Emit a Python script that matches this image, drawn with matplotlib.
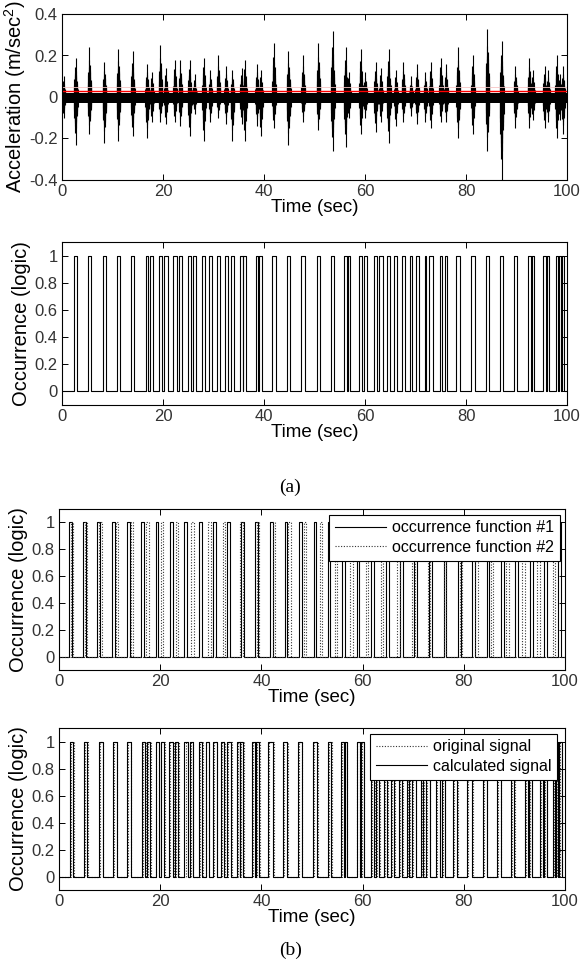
import numpy as np
import matplotlib
matplotlib.use("Agg")
import matplotlib.pyplot as plt
from matplotlib.ticker import FuncFormatter

plt.rcParams['font.family'] = ['Liberation Sans', 'DejaVu Sans']
plt.rcParams['mathtext.fontset'] = 'custom'
plt.rcParams['mathtext.rm'] = 'Liberation Sans'
plt.rcParams['mathtext.it'] = 'Liberation Sans'

# ---------------- data ----------------
# occurrence pulses (panel 2 / original signal): on and off times (sec)
orig_on = [2.4, 5.1, 8.1, 10.8, 13.7, 16.6, 17.5, 19.2, 20.2, 22.0, 23.1, 25.0, 26.0, 27.8,
           29.1, 30.6, 32.2, 33.4, 35.3, 35.9, 38.4, 39.1, 41.5, 44.5, 47.4, 50.4, 53.3, 55.9,
           56.6, 58.9, 59.8, 61.8, 62.8, 64.4, 65.8, 67.3, 69.0, 70.0, 71.8, 72.7, 74.8, 75.8,
           78.0, 80.9, 83.9, 86.7, 89.5, 92.3, 93.0, 95.3, 96.0, 97.8, 98.4, 99.0]
orig_off = [3.0, 5.7, 8.7, 11.5, 14.3, 17.1, 18.1, 19.8, 20.9, 22.7, 23.8, 25.5, 26.5, 28.4,
            29.7, 31.3, 32.8, 34.1, 35.8, 36.5, 38.9, 39.7, 42.4, 45.2, 48.1, 51.1, 53.9, 56.4,
            57.0, 59.5, 60.3, 62.4, 63.5, 65.0, 66.4, 67.9, 69.3, 70.6, 72.1, 73.4, 75.3, 76.3,
            78.9, 81.8, 84.6, 87.4, 90.1, 92.8, 93.5, 95.8, 96.5, 98.2, 98.8, 99.5]

# acceleration bursts: time, positive peak, negative peak
acc_t = [0.3] + [round((a + b) / 2, 2) for a, b in zip(orig_on, orig_off)]
acc_pos = [0.10, 0.19, 0.24, 0.17, 0.23, 0.22, 0.16, 0.12, 0.25, 0.14, 0.18, 0.18, 0.18, 0.11,
           0.19, 0.13, 0.20, 0.15, 0.13, 0.14, 0.18, 0.16, 0.13, 0.26, 0.22, 0.20, 0.26, 0.32,
           0.24, 0.12, 0.23, 0.12, 0.17, 0.14, 0.23, 0.13, 0.17, 0.10, 0.16, 0.12, 0.17, 0.19,
           0.16, 0.24, 0.20, 0.33, 0.27, 0.15, 0.19, 0.13, 0.15, 0.13, 0.20, 0.11, 0.15]
acc_neg = [-0.10, -0.23, -0.18, -0.22, -0.21, -0.19, -0.20, -0.12, -0.12, -0.13, -0.12, -0.14,
           -0.19, -0.08, -0.21, -0.12, -0.10, -0.13, -0.21, -0.13, -0.21, -0.14, -0.19, -0.15,
           -0.23, -0.12, -0.16, -0.26, -0.24, -0.10, -0.18, -0.10, -0.17, -0.12, -0.22, -0.14,
           -0.12, -0.09, -0.13, -0.12, -0.15, -0.12, -0.12, -0.20, -0.18, -0.26, -0.40, -0.15,
           -0.15, -0.11, -0.15, -0.12, -0.20, -0.11, -0.18]
noise_hi = 0.02
noise_lo = -0.028
threshold = 0.03

# panel 3: occurrence functions #1 (solid) and #2 (dotted)
f1_on = [2.0, 4.8, 7.6, 10.5, 13.4, 16.3, 19.1, 22.0, 24.8, 27.7, 30.5, 33.3, 36.0, 38.8, 41.7,
         44.6, 47.4, 50.3, 53.1, 56.0, 58.8, 61.7, 64.6, 67.4, 70.2, 73.1, 76.0, 78.8, 81.6,
         84.5, 87.4, 90.2, 93.1, 95.9, 98.7]
f1_width = 0.55
f2_on = [2.3, 5.1, 7.9, 11.2, 14.2, 17.2, 20.1, 23.1, 26.1, 29.5, 32.4, 35.8, 39.1, 42.2, 45.3,
         48.4, 51.5, 54.5, 57.6, 60.6, 63.6, 66.8, 69.8, 72.9, 76.0, 79.2, 82.3, 85.3, 88.4,
         91.5, 94.5, 97.6]
f2_width = 0.5

# panel 4: calculated signal (solid)
calc_on = [2.1, 5.0, 7.9, 10.7, 13.5, 16.4, 17.4, 19.1, 20.1, 21.8, 23.0, 24.8, 25.9, 27.6,
           29.0, 30.5, 32.1, 33.2, 35.1, 35.8, 38.2, 39.0, 41.3, 44.3, 47.2, 50.2, 53.1, 55.8,
           56.5, 58.8, 59.6, 61.6, 62.6, 64.2, 65.6, 67.1, 68.8, 69.8, 71.6, 72.5, 74.6, 75.6,
           77.8, 80.7, 83.7, 86.5, 89.3, 92.1, 92.8, 95.1, 95.8, 97.6, 98.2, 98.8]
calc_off = [2.8, 5.6, 8.6, 11.5, 14.3, 17.0, 18.0, 19.7, 20.8, 22.5, 23.6, 25.4, 26.4, 28.3,
            29.6, 31.2, 32.7, 33.9, 35.7, 36.4, 38.8, 39.6, 42.2, 45.1, 48.0, 51.0, 53.8, 56.3,
            56.9, 59.4, 60.2, 62.3, 63.3, 64.9, 66.3, 67.8, 69.2, 70.5, 72.0, 73.3, 75.2, 76.2,
            78.7, 81.6, 84.5, 87.3, 90.0, 92.7, 93.4, 95.7, 96.4, 98.1, 98.7, 99.4]

xticks = [0, 20, 40, 60, 80, 100]
acc_yticks = [-0.4, -0.2, 0, 0.2, 0.4]
occ_yticks = [0, 0.2, 0.4, 0.6, 0.8, 1]


def step_xy(on, off):
    xs, ys = [0.0], [0.0]
    for a, b in zip(on, off):
        xs += [a, a, b, b]
        ys += [0, 1, 1, 0]
    xs.append(100.0)
    ys.append(0.0)
    return xs, ys


fmt = FuncFormatter(lambda v, p: ('%g' % round(v, 2)))

W, H = 581, 963
fig = plt.figure(figsize=(W / 100, H / 100), dpi=100)

YL = 14.5
TL = 12
XL = 13.5


def mkax(l, r, t, b):
    return fig.add_axes([l / W, 1 - b / H, (r - l) / W, (b - t) / H])


def style(ax, yticks, ylim):
    ax.set_xlim(0, 100)
    ax.set_ylim(*ylim)
    ax.set_xticks(xticks)
    ax.set_yticks(yticks)
    ax.xaxis.set_major_formatter(fmt)
    ax.yaxis.set_major_formatter(fmt)
    ax.tick_params(direction='in', top=True, right=True, length=4, width=0.7,
                   labelsize=TL, labelcolor='#333333', pad=3)
    for s in ax.spines.values():
        s.set_linewidth(0.8)
    ax.set_xlabel('Time (sec)', fontsize=XL, labelpad=0)


lw = 0.8

# ---- panel 1 ----
ax1 = mkax(62, 567, 14, 180)
ax1.fill_between([0, 100], noise_lo, noise_hi, color='k', lw=0)
offs = [-0.35, -0.3, -0.25, -0.2, -0.15, -0.1, -0.05, 0.0, 0.05, 0.1, 0.15, 0.2, 0.25, 0.3, 0.35, 0.4]
fr = [0.25, 0.3, 0.45, 0.5, 0.6, 0.75, 0.55, 1.0, 0.65, 0.5, 0.55, 0.4, 0.35, 0.3, 0.25, 0.2]
for t, p, n in zip(acc_t, acc_pos, acc_neg):
    xs = [t + o for o in offs]
    ax1.vlines(xs, [n * f for f in fr], [p * f for f in fr], color='k', lw=0.8)
    ax1.fill_between([t - 0.3, t + 0.35], 0.3 * n, 0.25 * p, color='k', lw=0)
ax1.axhline(threshold + 0.02, color='#f6c4c4', lw=0.6)
ax1.axhline(threshold, color='red', lw=1.0)
style(ax1, acc_yticks, (-0.4, 0.4))
ax1.set_ylabel(r'Acceleration (m/sec$^2$)', fontsize=YL, labelpad=1)

# ---- panel 2 ----
ax2 = mkax(62, 567, 242, 405)
x, y = step_xy(orig_on, orig_off)
ax2.plot(x, y, color='k', lw=lw)
style(ax2, occ_yticks, (-0.1, 1.1))
ax2.set_ylabel('Occurrence (logic)', fontsize=YL, labelpad=3)

fig.text(0.5, 1 - 487 / H, '(a)', ha='center', va='center', fontsize=14,
         family=['Liberation Serif', 'DejaVu Serif'])

# ---- panel 3 ----
ax3 = mkax(59, 565, 509, 670)
x, y = step_xy(f1_on, [a + f1_width for a in f1_on])
ax3.plot(x, y, color='k', lw=lw, label='occurrence function #1')
x, y = step_xy(f2_on, [a + f2_width for a in f2_on])
ax3.plot(x, y, color='#333333', lw=lw, ls=(0, (1, 1.5)), label='occurrence function #2')
style(ax3, occ_yticks, (-0.1, 1.1))
ax3.set_ylabel('Occurrence (logic)', fontsize=YL, labelpad=3)
leg = ax3.legend(loc='upper right', bbox_to_anchor=(0.99, 0.965), fontsize=11.5, frameon=True,
                 fancybox=False, framealpha=1, edgecolor='k', handlelength=3.2,
                 borderpad=0.35, labelspacing=0.3, handletextpad=0.4, borderaxespad=0)
leg.get_frame().set_linewidth(0.8)

# ---- panel 4 ----
ax4 = mkax(59, 565, 728, 890)
x, y = step_xy(orig_on, orig_off)
ax4.plot(x, y, color='#333333', lw=lw, ls=(0, (1, 1.5)), label='original signal')
x, y = step_xy(calc_on, calc_off)
ax4.plot(x, y, color='k', lw=lw, label='calculated signal')
style(ax4, occ_yticks, (-0.1, 1.1))
ax4.set_ylabel('Occurrence (logic)', fontsize=YL, labelpad=3)
leg = ax4.legend(loc='upper right', bbox_to_anchor=(0.985, 0.965), fontsize=11.5, frameon=True,
                 fancybox=False, framealpha=1, edgecolor='k', handlelength=3.2,
                 borderpad=0.35, labelspacing=0.3, handletextpad=0.4, borderaxespad=0)
leg.get_frame().set_linewidth(0.8)

fig.text(0.5, 1 - 950 / H, '(b)', ha='center', va='center', fontsize=14,
         family=['Liberation Serif', 'DejaVu Serif'])

fig.savefig('out.png', dpi=100, facecolor='white')
